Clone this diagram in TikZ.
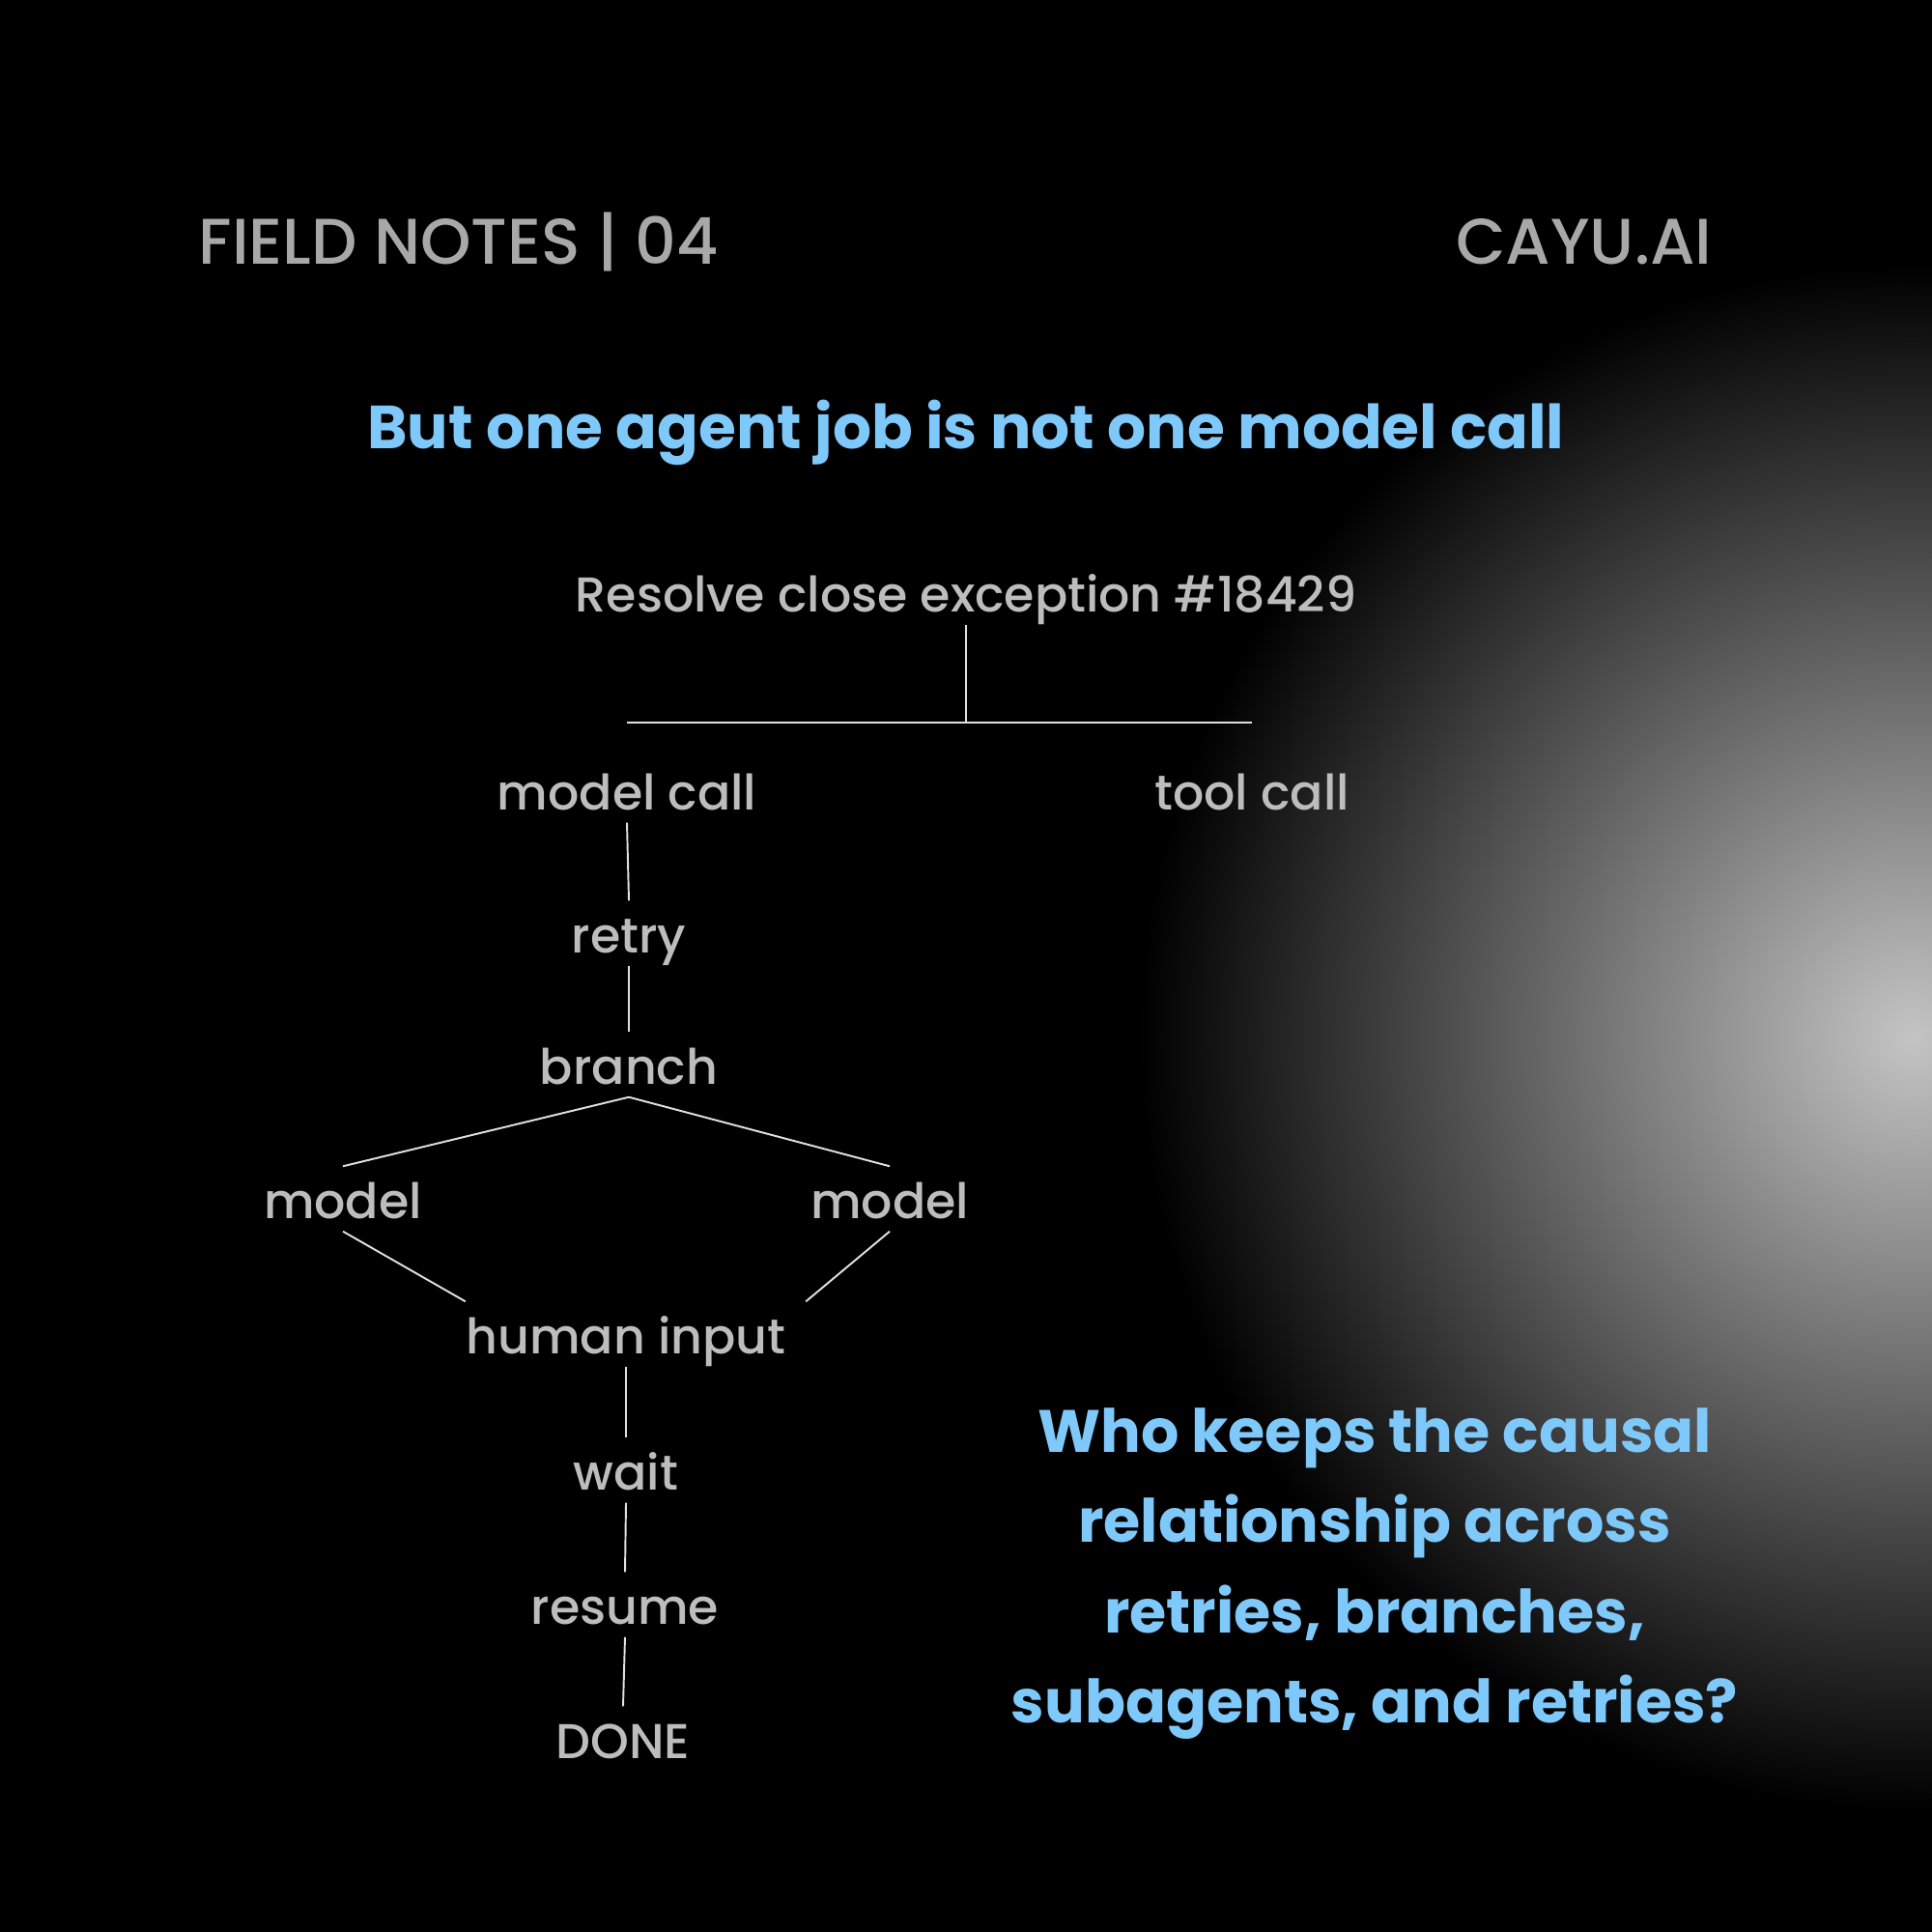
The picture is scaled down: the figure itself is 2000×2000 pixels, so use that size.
\documentclass[tikz,border=0pt]{standalone}
\usepackage{fontspec}
\setmainfont{Poppins}
\newfontfamily\medfont{Poppins Medium}
\usetikzlibrary{calc}
\definecolor{capgray}{HTML}{A8A8A8}
\definecolor{nodegray}{HTML}{BDBDBD}
\definecolor{skyblue}{HTML}{7EC8FA}
\definecolor{glowcore}{HTML}{C4C4C4}
\pgfdeclareradialshading{glow}{\pgfpointorigin}{color(0bp)=(glowcore); color(25bp)=(black); color(50bp)=(black)}
\tikzset{
  capnode/.style = {inner sep=0pt, text=capgray, font=\medfont\fontsize{19}{22}\selectfont},
  headline/.style = {inner sep=0pt, text=skyblue, font=\fontsize{17.9}{23}\selectfont\bfseries},
  treenode/.style = {inner xsep=0pt, inner ysep=0.13cm, text height=0.4cm, text depth=0pt, text=nodegray, font=\medfont\fontsize{14.4}{18}\selectfont},
  link/.style = {draw=white!88!black, line width=0.55pt}
}

\begin{document}
\begin{tikzpicture}[x=0.01cm, y=-0.01cm]
			\useasboundingbox (0,0) rectangle (2000,2000);
			\fill[black] (0,0) rectangle (2000,2000);
			\begin{scope}
				\clip (0,0) rectangle (2000,2000);
				\shade[shading=glow] (1980,1074) circle[radius=8cm];
			\end{scope}
			\node[capnode, anchor=base west] (series) at (205,273) {FIELD NOTES | 04};
			\node[capnode, anchor=base east] (brand) at (1773,273) {CAYU.AI};
			\node[headline, anchor=base] (title) at (1000,464) {But one agent job is not one model call};
			\node[headline, font=\fontsize{17.6}{26.6}\selectfont\bfseries, align=center] (question) at (1423,1629)
				{Who keeps the causal\\relationship across\\retries, branches,\\subagents, and retries?};
			\tikzstyle{every node}=[treenode]
			\node (job) at (1000,613) {Resolve close exception \#18429};
			\node (mcall) at (649,818) {model call};
			\node (tcall) at (1296,818) {tool call};
			\node (retry) at (651,966) {retry};
			\node (branch) at (651,1102) {branch};
			\node (lmodel) at (355,1241) {model};
			\node (rmodel) at (921,1241) {model};
			\node (human) at (648,1381) {human input};
			\node (wait) at (648,1522) {wait};
			\node (resume) at (647,1661) {resume};
			\node (done) at (645,1800) {DONE};
			\coordinate (barl) at (mcall.center |- 0,748);
			\coordinate (barr) at (tcall.center |- 0,748);
			\draw[link] (job.south) -- (job.south |- barl);
			\draw[link] (barl) -- (barr);
			\draw[link] (mcall.south) -- (retry.north);
			\draw[link] (retry.south) -- (branch.north);
			\draw[link] (branch.south) -- (lmodel.north);
			\draw[link] (branch.south) -- (rmodel.north);
			\draw[link] (lmodel.south) -- (human.north west);
			\draw[link] (rmodel.south) -- ([xshift=2mm]human.north east);
			\draw[link] (human.south) -- (wait.north);
			\draw[link] (wait.south) -- (resume.north);
			\draw[link] (resume.south) -- (done.north);
		\end{tikzpicture}
\end{document}
